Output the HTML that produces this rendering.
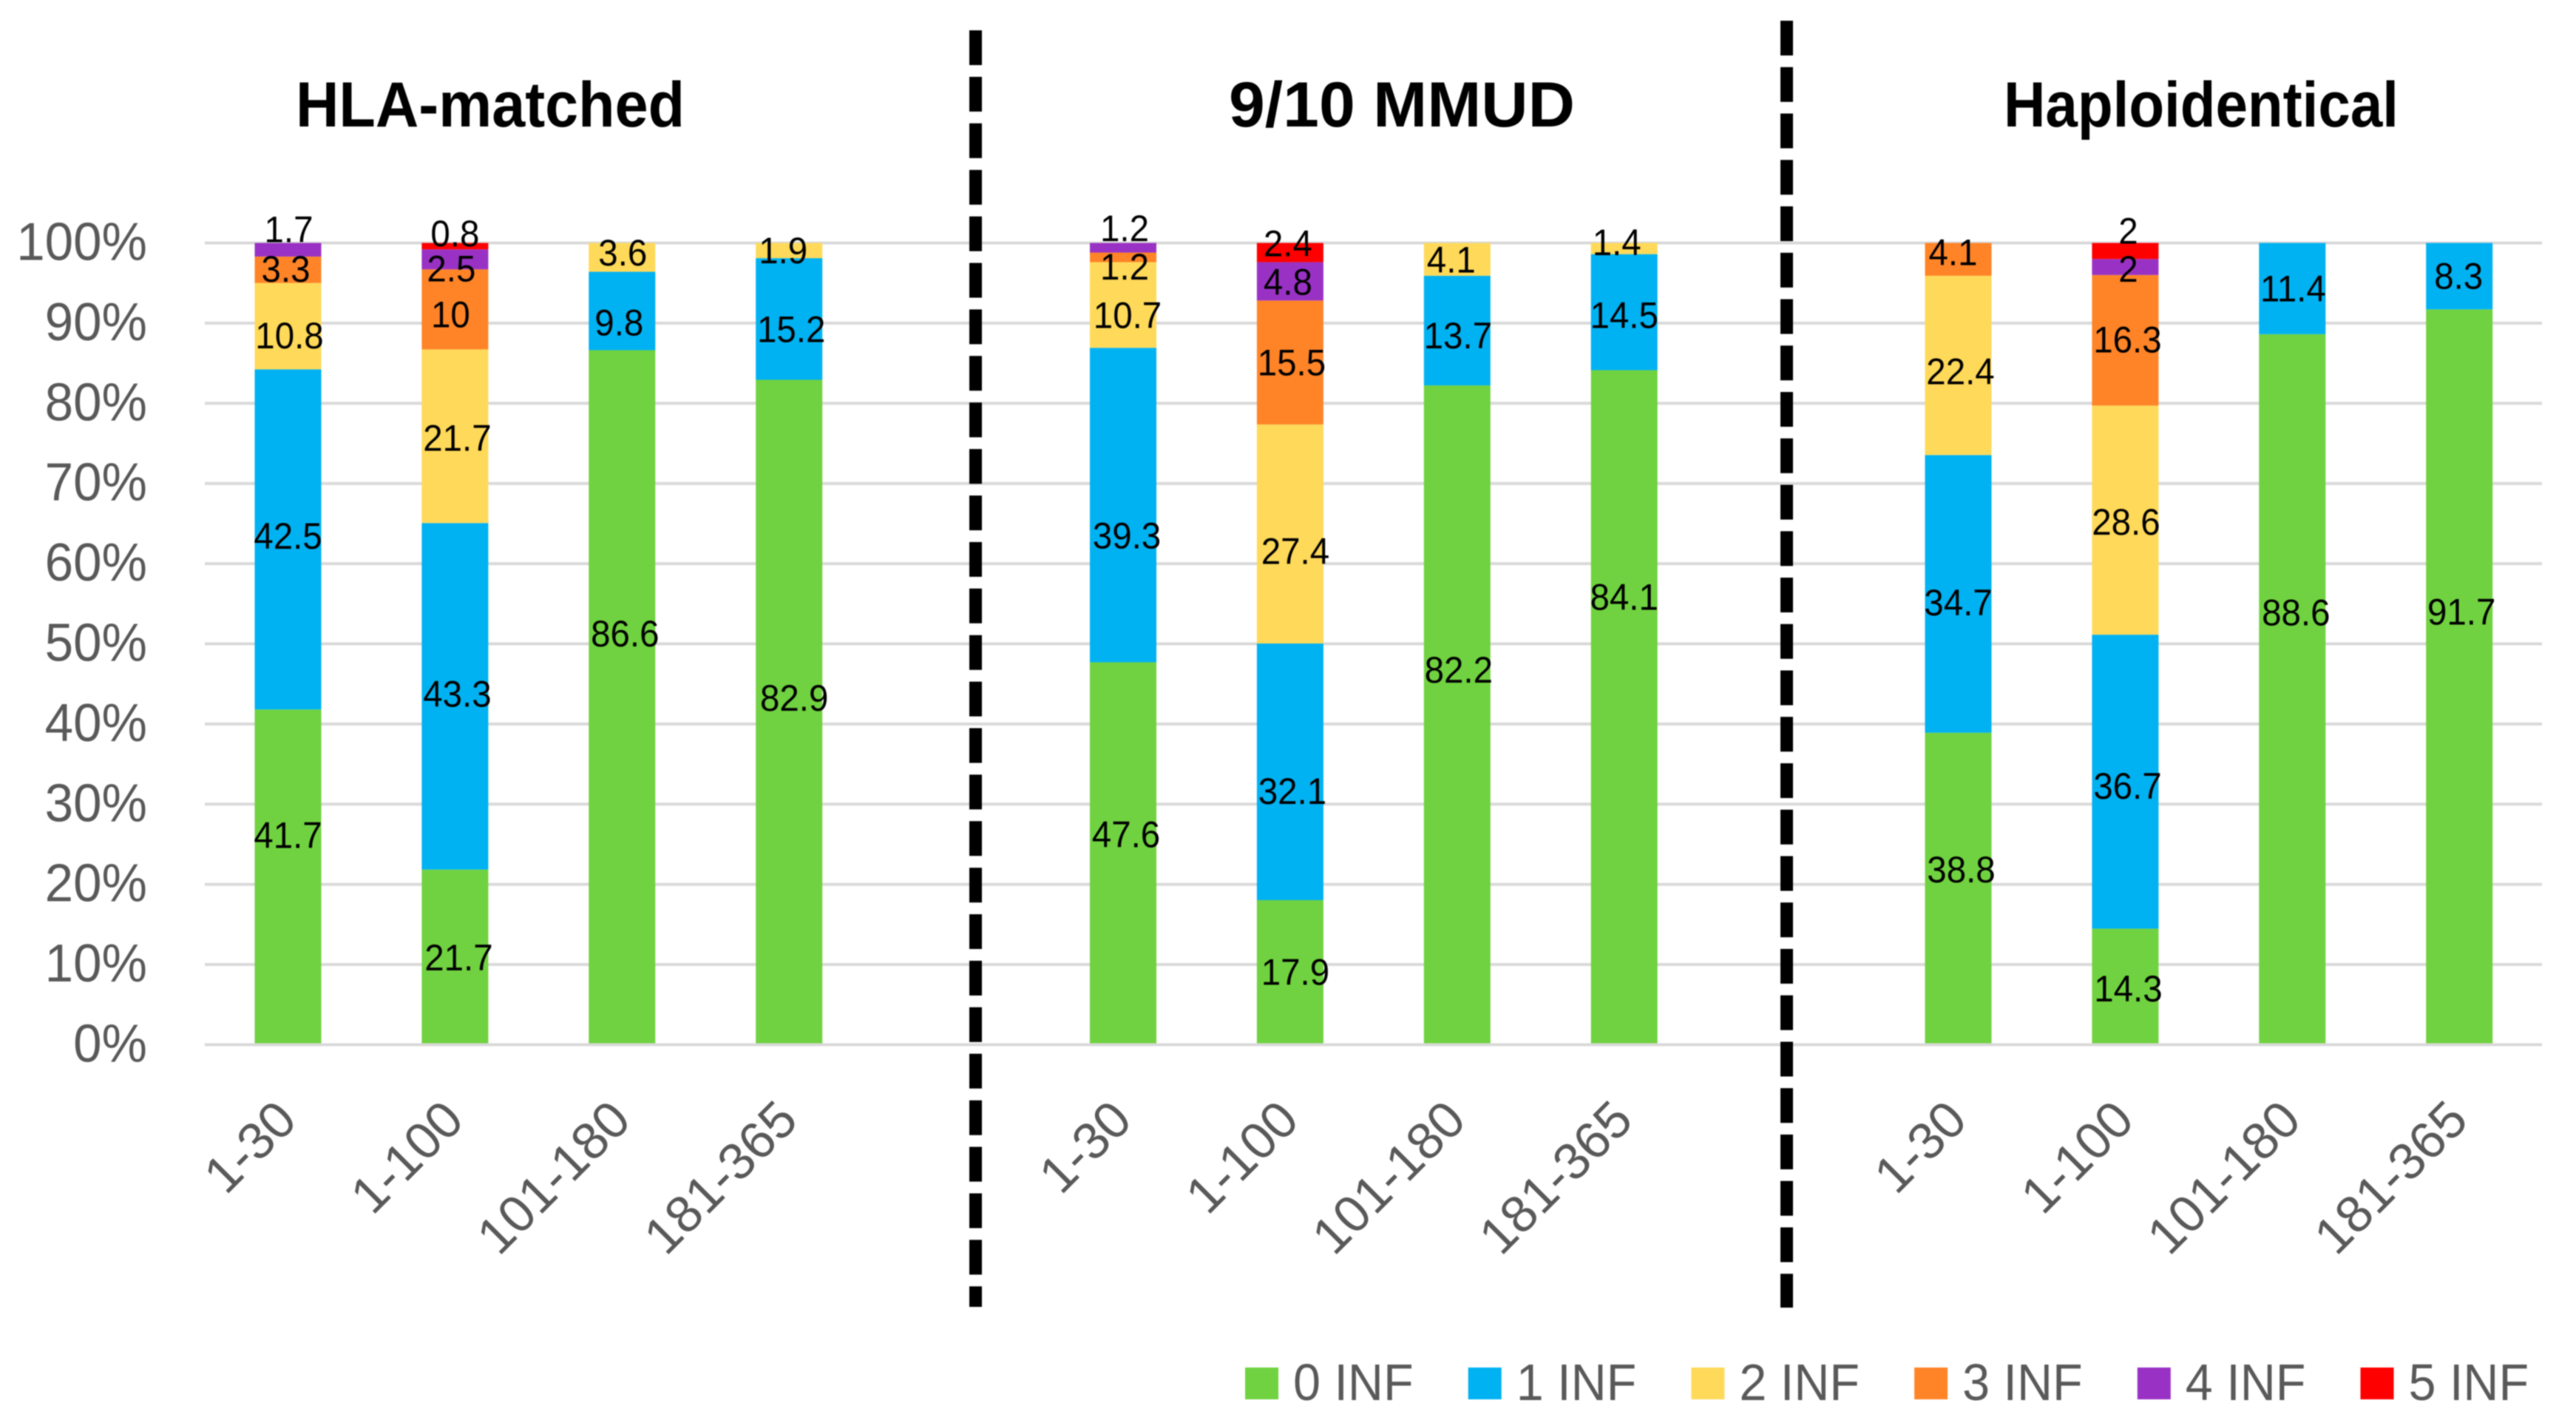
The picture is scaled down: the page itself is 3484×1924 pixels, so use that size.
<!DOCTYPE html>
<html lang="en">
<head>
<meta charset="utf-8">
<title>Infection counts by donor type</title>
<style>
  html, body { margin: 0; padding: 0; background: #ffffff; }
  svg { display: block; filter: blur(0.7px); }
  text { font-family: "Liberation Sans", sans-serif; }
</style>
</head>
<body>
<svg id="chart" xmlns="http://www.w3.org/2000/svg" width="3484" height="1924" viewBox="0 0 3484 1924">
  <rect x="0" y="0" width="3484" height="1924" fill="#ffffff"></rect>
  <g id="grid"></g>
  <g id="bars"></g>
  <g id="labels"></g>
  <g id="yaxis"></g>
  <g id="xaxis"></g>
  <text x="400" y="171" font-size="86" font-weight="700" fill="#000000" textLength="526" lengthAdjust="spacingAndGlyphs">HLA-matched</text>
  <text x="1662" y="171" font-size="86" font-weight="700" fill="#000000" textLength="468" lengthAdjust="spacingAndGlyphs">9/10 MMUD</text>
  <text x="2710" y="171" font-size="86" font-weight="700" fill="#000000" textLength="534" lengthAdjust="spacingAndGlyphs">Haploidentical</text>
  <line x1="1319.5" y1="41" x2="1319.5" y2="1767" stroke="#000000" stroke-width="17" stroke-dasharray="47 15.9"></line>
  <line x1="2416.5" y1="28" x2="2416.5" y2="1768" stroke="#000000" stroke-width="17" stroke-dasharray="47 15.75"></line>
  <g id="legend"></g>
</svg>
<script>
// ---- chart data ----
const categories = ['1-30', '1-100', '101-180', '181-365'];
const panels = ['HLA-matched', '9/10 MMUD', 'Haploidentical'];
const seriesNames = ['0 INF', '1 INF', '2 INF', '3 INF', '4 INF', '5 INF'];
const inf0 = [41.7, 21.7, 86.6, 82.9, 47.6, 17.9, 82.2, 84.1, 38.8, 14.3, 88.6, 91.7];
const inf1 = [42.5, 43.3, 9.8, 15.2, 39.3, 32.1, 13.7, 14.5, 34.7, 36.7, 11.4, 8.3];
const inf2 = [10.8, 21.7, 3.6, 1.9, 10.7, 27.4, 4.1, 1.4, 22.4, 28.6, 0, 0];
const inf3 = [3.3, 10, 0, 0, 1.2, 15.5, 0, 0, 4.1, 16.3, 0, 0];
const inf4 = [1.7, 2.5, 0, 0, 1.2, 4.8, 0, 0, 0, 2, 0, 0];
const inf5 = [0, 0.8, 0, 0, 0, 2.4, 0, 0, 0, 2, 0, 0];
const yTicks = [0, 10, 20, 30, 40, 50, 60, 70, 80, 90, 100];
const seriesValues = [inf0, inf1, inf2, inf3, inf4, inf5];

// ---- styling and layout ----
const seriesColors = ['#70D240', '#00B2F2', '#FFD959', '#FF8427', '#9932C4', '#FF0000'];
const NS = 'http://www.w3.org/2000/svg';
const plotLeft = 277, plotRight = 3438, slotWidth = 225.9, firstSlot = 389.5, barWidth = 90;
const yZero = 1412.5, pxPerPercent = 10.84;
const barBase = 1410.5, barPxPerPercent = 10.82;
// hand-placed label offsets from each segment's centre, [dx, dy] by bar and then by series
const labelNudges = [
  [[0,-58],[0,-6],[2,12],[-3,-2],[1,-28]],
  [[5,-1],[3,-5],[3,1],[-6,6],[-5,12],[0,-18]],
  [[4,-87],[-4,15],[1,-7]],
  [[7,-20],[3,13],[-8,-1]],
  [[4,-27],[5,40],[6,13],[2,12],[2,-27]],
  [[7,-2],[3,24],[7,22],[2,-1],[-3,0],[-3,-13]],
  [[2,-62],[1,6],[-8,0]],
  [[0,-150],[0,3],[-10,-9]],
  [[4,-27],[0,10],[3,7],[-7,-10]],
  [[4,1],[3,4],[1,1],[3,-2],[4,2],[4,-28]],
  [[5,-105],[1,-1]],
  [[3,-89],[-1,-1]]
];

function xScale(barIndex) {
  const panel = Math.floor(barIndex / categories.length);
  const slot = barIndex + panel;
  return firstSlot + slot * slotWidth;
}
function yScale(v) {
  return yZero - v * pxPerPercent;
}
function barY(v) {
  return barBase - v * barPxPerPercent;
}

const gridG = document.getElementById('grid');
const barsG = document.getElementById('bars');
const labelsG = document.getElementById('labels');
const yAxisG = document.getElementById('yaxis');
const xAxisG = document.getElementById('xaxis');
const legendG = document.getElementById('legend');

// gridlines and y tick labels
yTicks.forEach(function (tick) {
  const line = document.createElementNS(NS, 'line');
  
  
  line.setAttribute('x1', plotLeft);
  line.setAttribute('x2', plotRight);
  line.setAttribute('y1', yScale(tick));
  line.setAttribute('y2', yScale(tick));
  line.setAttribute('stroke', '#D9D9D9');
  line.setAttribute('stroke-width', '4');
  gridG.appendChild(line);

  const label = document.createElementNS(NS, 'text');
  
  
  label.setAttribute('transform', 'translate(199 ' + (yScale(tick) + 23) + ') scale(0.96 1)');
  label.setAttribute('text-anchor', 'end');
  label.setAttribute('font-size', '72');
  label.setAttribute('fill', '#595959');
  label.textContent = tick + '%';
  yAxisG.appendChild(label);
});

// stacked bars and value labels
const barCount = inf0.length;
for (let b = 0; b < barCount; b++) {
  let total = 0;
  seriesValues.forEach(function (s) { total += s[b]; });
  const unit = total > 0 ? 100 / total : 0;
  const cx = xScale(b);
  let cumulative = 0;
  let shown = 0;
  seriesValues.forEach(function (s, si) {
    const v = s[b];
    if (!v) { return; }
    const bottom = cumulative * unit;
    const top = (cumulative + v) * unit;
    cumulative += v;

    const rect = document.createElementNS(NS, 'rect');
    
    
    rect.setAttribute('x', cx - barWidth / 2);
    rect.setAttribute('y', barY(top));
    rect.setAttribute('width', barWidth);
    rect.setAttribute('height', barY(bottom) - barY(top));
    rect.setAttribute('fill', seriesColors[si]);
    barsG.appendChild(rect);

    const row = labelNudges[b] || [];
    const nudge = row[shown] || [0, 0];
    shown += 1;
    const lx = cx + nudge[0];
    const ly = yScale((bottom + top) / 2) + 18 + nudge[1];
    const text = document.createElementNS(NS, 'text');
    
    
    text.setAttribute('transform', 'translate(' + lx + ' ' + ly + ') scale(0.95 1)');
    text.setAttribute('text-anchor', 'middle');
    text.setAttribute('font-size', '50');
    text.setAttribute('fill', '#000000');
    text.textContent = String(v);
    labelsG.appendChild(text);
  });

  // rotated category label
  const catLabel = document.createElementNS(NS, 'text');
  
  
  catLabel.setAttribute('transform', 'translate(' + (cx + 15) + ' 1518) rotate(-45)');
  catLabel.setAttribute('text-anchor', 'end');
  catLabel.setAttribute('font-size', '70');
  catLabel.setAttribute('fill', '#595959');
  catLabel.textContent = categories[b % categories.length];
  xAxisG.appendChild(catLabel);
}

// legend
seriesNames.forEach(function (name, i) {
  const left = 1684 + i * 301.7;
  const swatch = document.createElementNS(NS, 'rect');
  
  
  swatch.setAttribute('x', left);
  swatch.setAttribute('y', 1849);
  swatch.setAttribute('width', 45);
  swatch.setAttribute('height', 43);
  swatch.setAttribute('fill', seriesColors[i]);
  legendG.appendChild(swatch);

  const entry = document.createElementNS(NS, 'text');
  
  
  entry.setAttribute('transform', 'translate(' + (left + 65) + ' 1893) scale(0.95 1)');
  entry.setAttribute('font-size', '70');
  entry.setAttribute('fill', '#595959');
  entry.textContent = name;
  legendG.appendChild(entry);
});
</script>
</body>
</html>
